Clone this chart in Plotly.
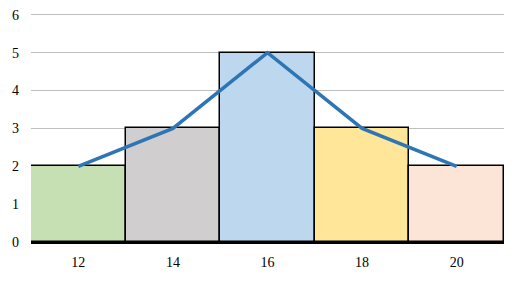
import plotly.graph_objects as go

categories = ["12", "14", "16", "18", "20"]
counts = [2, 3, 5, 3, 2]
bar_colors = ["#C6E0B4", "#D0CECE", "#BDD7EE", "#FFE699", "#FCE4D6"]
y_ticks = [0, 1, 2, 3, 4, 5, 6]

fig = go.Figure()
fig.add_trace(go.Bar(
    x=categories, y=counts,
    marker=dict(color=bar_colors, line=dict(color="#000000", width=1.5)),
    width=1.0, showlegend=False, hoverinfo="skip",
))
fig.add_trace(go.Scatter(
    x=categories, y=counts, mode="lines",
    line=dict(color="#2E75B6", width=3.5),
    showlegend=False, hoverinfo="skip",
))
# page has an 8px default body margin; size the figure to compensate
fig.update_layout(
    width=506, height=273,
    margin=dict(l=23, r=10, t=3, b=39),
    paper_bgcolor="white", plot_bgcolor="white",
    bargap=0,
    font=dict(family="Liberation Serif, DejaVu Serif, serif", size=14, color="#000000"),
    xaxis=dict(
        type="category", range=[-0.5, 4.5], automargin=False,
        showgrid=False, showline=True, linecolor="#000000", linewidth=2,
        ticks="", ticklen=0, ticklabelstandoff=6, tickfont=dict(size=14),
    ),
    yaxis=dict(
        range=[0, 6.1], tickvals=y_ticks, showgrid=True, gridcolor="#BFBFBF", gridwidth=1,
        zeroline=False, showline=False, ticks="", ticklabelstandoff=11, automargin=False,
        ticklabeloverflow="allow", tickfont=dict(size=14),
    ),
)
fig.write_html("out.html")
